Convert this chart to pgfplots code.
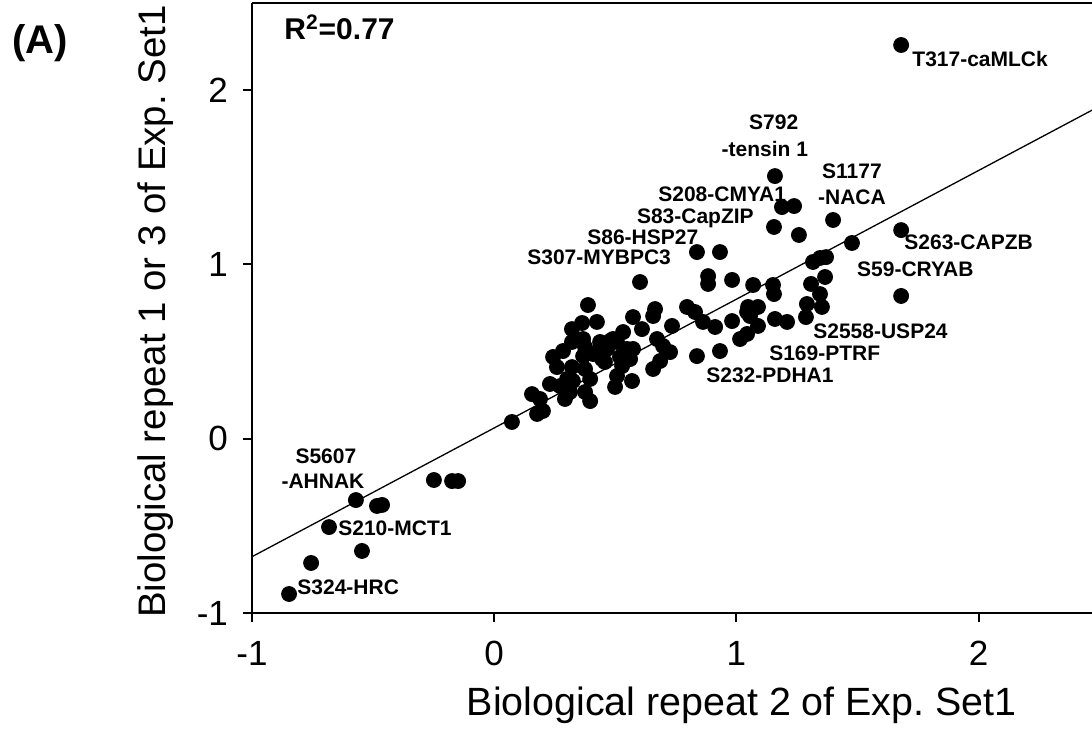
\documentclass[border=0pt]{standalone}
\usepackage{fontspec}
\setmainfont{Liberation Sans}
\usepackage{pgfplots}
\usepackage{pgfplotstable}
\pgfplotsset{compat=1.18}
\frenchspacing
\tikzset{lbl/.style={font=\fontsize{10.5}{12.5}\selectfont\bfseries, inner sep=0pt, text height=7.5pt, text depth=0pt}}

\pgfplotstableread{
x y
1.680 2.259
1.159 1.507
1.188 1.329
1.238 1.335
1.155 1.215
1.258 1.169
1.399 1.255
1.477 1.123
1.680 1.197
1.680 0.819
1.316 1.014
1.345 1.037
1.370 1.042
1.366 0.928
1.308 0.888
1.345 0.830
1.291 0.773
1.353 0.756
1.287 0.698
1.209 0.670
1.151 0.882
1.155 0.830
1.069 0.882
0.982 0.911
0.932 1.071
0.837 1.071
0.883 0.933
0.883 0.888
1.048 0.756
1.089 0.756
1.056 0.704
1.089 0.647
1.159 0.687
0.982 0.675
0.912 0.641
0.862 0.670
1.044 0.601
1.015 0.572
0.932 0.503
0.837 0.474
0.796 0.756
0.829 0.727
0.734 0.647
0.664 0.744
0.656 0.704
0.610 0.629
0.573 0.698
0.602 0.899
0.672 0.572
0.697 0.532
0.726 0.497
0.656 0.400
0.685 0.446
0.573 0.515
0.532 0.612
0.561 0.457
0.528 0.417
0.507 0.360
0.499 0.297
0.569 0.331
0.548 0.515
0.478 0.561
0.466 0.515
0.519 0.469
0.457 0.440
0.387 0.767
0.363 0.664
0.424 0.670
0.321 0.629
0.367 0.572
0.375 0.526
0.437 0.555
0.490 0.572
0.408 0.486
0.445 0.457
0.367 0.474
0.375 0.400
0.396 0.343
0.375 0.268
0.396 0.216
0.321 0.555
0.243 0.469
0.284 0.503
0.259 0.411
0.321 0.411
0.230 0.314
0.272 0.302
0.301 0.343
0.325 0.331
0.292 0.228
0.313 0.268
0.156 0.256
0.189 0.228
0.177 0.142
0.201 0.159
0.073 0.096
0.507 0.555
1.044 0.727
-0.847 -0.891
-0.756 -0.713
-0.682 -0.507
-0.546 -0.644
-0.571 -0.352
-0.484 -0.386
-0.463 -0.380
-0.249 -0.237
-0.174 -0.243
-0.149 -0.243
}\datatable

\begin{document}
\begin{tikzpicture}
\useasboundingbox (0,0) rectangle (546pt,372pt);
\begin{axis}[
  at={(126pt,65.5pt)}, anchor=south west,
  scale only axis, width=420pt, height=305pt,
  xmin=-1, xmax=2.468, ymin=-1, ymax=2.5,
  axis x line*=box, axis y line*=left,
  axis line style={line width=1pt, -},
  xtick={-1,0,1,2}, xticklabels={-1,0,1,2},
  ytick={-1,0,1,2}, yticklabels={-1,0,1,2},
  xtick pos=left, ytick pos=left,
  tick align=outside, major tick length=4.5pt,
  tick style={line width=1pt, black},
  minor tick num=0,
  tick label style={font=\fontsize{17.5}{20}\selectfont},
  xticklabel style={yshift=-6pt},
  yticklabel style={xshift=-4pt},
  xlabel={Biological repeat 2 of Exp. Set1},
  ylabel={Biological repeat 1 or 3 of Exp. Set1},
  xlabel style={font=\fontsize{19.7}{23}\selectfont, at={(axis description cs:0.583,-0.151)}, anchor=center},
  ylabel style={font=\fontsize{19.2}{23}\selectfont, at={(axis description cs:-0.115,0.494)}, anchor=center},
  clip=false,
]
\addplot[black, line width=0.65pt] coordinates {(-1,-0.677) (2.468,1.885)};
\addplot[only marks, mark=*, mark size=3.75pt, black, mark options={fill=black}] table {\datatable};

\node[lbl, anchor=west] at (axis cs:1.725,2.178) {T317-caMLCk};
\node[lbl, anchor=center] at (axis cs:1.154,1.817) {S792};
\node[lbl, anchor=center] at (axis cs:1.117,1.662) {-tensin 1};
\node[lbl, anchor=center] at (axis cs:1.477,1.536) {S1177};
\node[lbl, anchor=center] at (axis cs:1.477,1.387) {-NACA};
\node[lbl, anchor=west] at (axis cs:0.676,1.404) {S208-CMYA1};
\node[lbl, anchor=west] at (axis cs:0.588,1.278) {S83-CapZIP};
\node[lbl, anchor=west] at (axis cs:0.383,1.157) {S86-HSP27};
\node[lbl, anchor=west] at (axis cs:0.135,1.042) {S307-MYBPC3};
\node[lbl, anchor=west] at (axis cs:1.692,1.129) {S263-CAPZB};
\node[lbl, anchor=west] at (axis cs:1.497,0.974) {S59-CRYAB};
\node[lbl, anchor=west] at (axis cs:1.316,0.618) {S2558-USP24};
\node[lbl, anchor=west] at (axis cs:1.134,0.492) {S169-PTRF};
\node[lbl, anchor=west] at (axis cs:0.874,0.365) {S232-PDHA1};
\node[lbl, anchor=center] at (axis cs:-0.695,-0.099) {S5607};
\node[lbl, anchor=center] at (axis cs:-0.707,-0.243) {-AHNAK};
\node[lbl, anchor=west] at (axis cs:-0.645,-0.512) {S210-MCT1};
\node[lbl, anchor=west] at (axis cs:-0.814,-0.851) {S324-HRC};
\node[font=\fontsize{15}{18}\selectfont\bfseries, inner sep=0pt, text height=10.7pt, text depth=0pt, anchor=west] at (axis cs:-0.868,2.351) {R\textsuperscript{2}=0.77};
\end{axis}
\node[font=\fontsize{20}{24}\selectfont\bfseries, anchor=center] at (20pt,350.5pt) {(A)};
\end{tikzpicture}
\end{document}
